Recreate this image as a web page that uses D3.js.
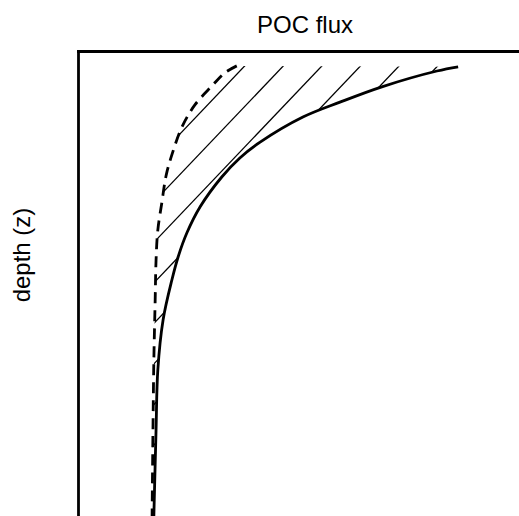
<!DOCTYPE html>
<html>
<head>
<meta charset="utf-8">
<script src="https://cdn.jsdelivr.net/npm/d3@7"></script>
<style>
  body { margin: 0; background: #fff; }
  svg { display: block; font-family: "Liberation Sans", Arial, sans-serif; }
</style>
</head>
<body>
<div id="chart"></div>
<script>
// flux (relative units, 0-100) vs depth (relative units, 0-100)
var martinFlux  = [86.2, 81.4, 68.9, 59.4, 51.0, 41.3, 36.7, 32.6, 27.7, 24.7, 22.7, 21.3, 19.3, 18.1, 17.7, 17.2];
var martinDepth = [3.4, 4.3, 7.7, 11.0, 14.2, 19.6, 23.0, 27.1, 33.5, 39.1, 44.3, 49.2, 57.8, 68.6, 81.5, 100];

var dashFlux  = [36.0, 33.3, 30.4, 26.5, 23.6, 21.5, 20.0, 19.0, 18.1, 17.7, 17.5, 17.2, 17.0, 16.8];
var dashDepth = [3.2, 4.7, 7.5, 11.6, 16.3, 21.7, 26.7, 32.7, 38.5, 45.0, 53.5, 66.5, 81.5, 100];

var title = "POC flux";
var yTitle = "depth (z)";

var width = 519, height = 516;
var margin = {top: 51, left: 78};

var svg = d3.select('#chart').append('svg')
   .attr('width', width)
   .attr('height', height);

var x = d3.scaleLinear().domain([0, 100]).range([margin.left, width]);
var y = d3.scaleLinear().domain([0, 100]).range([margin.top, height]);

var solid = martinFlux.map(function (f, i) { return [f, martinDepth[i]]; });
var dashed = dashFlux.map(function (f, i) { return [f, dashDepth[i]]; });

var line = d3.line()
   .x(function (d) { return x(d[0]); })
   .y(function (d) { return y(d[1]); })
   .curve(d3.curveCatmullRom.alpha(0.5));

// region between the two curves, used to clip the hatching
var regionPath = line(dashed) + 'L' + line(solid.slice().reverse()).slice(1) + 'Z';
svg.append('clipPath').attr('id', 'between')
   .append('path').attr('d', regionPath);

// hatching: parallel lines, roughly 46 degrees
var hatchStep = 38.6, hatchSlope = 1.05;
var hatchStart = x(dashFlux[0]) + 8;
var hatchLines = d3.range(0, 8).map(function (k) { return hatchStart + k * hatchStep; });
var topY = y(dashDepth[0]) - 10;
svg.append('g')
   .attr('clip-path', 'url(#between)')
   .selectAll('line')
   .data(hatchLines)
   .enter()
   .append('line')
   .attr('x1', function (d) { return d + 10 / hatchSlope; })
   .attr('y1', topY)
   .attr('x2', function (d) { return d - 500 / hatchSlope; })
   .attr('y2', topY + 10 + 500)
   .attr('stroke', '#000')
   .attr('stroke-width', 1.3);

svg.append('path')
   .attr('d', line(dashed))
   .attr('fill', 'none')
   .attr('stroke', '#000')
   .attr('stroke-width', 2.8)
   .attr('stroke-dasharray', '11,7');

svg.append('path')
   .attr('d', line(solid))
   .attr('fill', 'none')
   .attr('stroke', '#000')
   .attr('stroke-width', 2.8);

// frame: top and left axes, no ticks
svg.append('g')
   .attr('transform', 'translate(0,' + margin.top + ')')
   .call(d3.axisTop(x).ticks(0).tickSizeOuter(0));
svg.append('g')
   .attr('transform', 'translate(' + margin.left + ',0)')
   .call(d3.axisLeft(y).ticks(0).tickSizeOuter(0));
svg.selectAll('.domain')
   .attr('stroke', '#000')
   .attr('stroke-width', 2.8)
   .attr('stroke-linecap', 'square');

svg.append('text')
   .attr('x', 305)
   .attr('y', 33)
   .attr('text-anchor', 'middle')
   .attr('font-size', 24)
   .text(title);

svg.append('text')
   .attr('transform', 'translate(30,255) rotate(-90)')
   .attr('text-anchor', 'middle')
   .attr('font-size', 24)
   .text(yTitle);
</script>
</body>
</html>
